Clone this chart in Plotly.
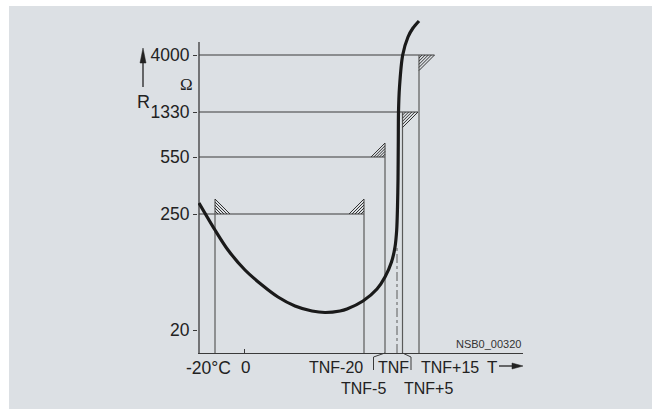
import plotly.graph_objects as go

# ---------------- data (schematic units) ----------------
temp_labels = ["-20°C", "0", "TNF-20", "TNF-5", "TNF", "TNF+5", "TNF+15"]
temp_pos = [16, 45, 165, 186, 198, 203.5, 220]          # schematic temperature axis
r_labels = ["20", "250", "550", "1330", "4000"]
r_pos = [23, 139, 196, 241, 298]                        # schematic resistance axis (Ω)

# PTC characteristic curve R(T)
curve_t = [0, 16, 29, 46, 63, 79, 96, 113, 126, 141, 148, 164, 178, 186,
           192.5, 196, 197.7, 198.5, 199, 199.3, 199.5, 200.5, 203.7, 209, 214, 220]
curve_r = [150, 123, 103, 83, 68, 56, 47, 42, 40.5, 42, 44, 52, 64, 76,
           91, 106, 123, 146, 173, 213, 241, 266, 298, 316, 325, 332]

# tolerance marks: (temperature label, resistance label)
mark_t = ["-20°C", "TNF-20", "TNF-5", "TNF+5", "TNF+15"]
mark_r = ["250", "250", "550", "1330", "4000"]

# ---------------- layout constants ----------------
W, H = 652, 409
ML, MR, MT, MB = 198, 129, 15, 56
XR = [-1, 324]
YR = [0, 338]
AX_TOP = 311
BG = "rgb(220,224,228)"
LINE = "#3a3a3a"
VLINE = "#5a5a5a"
FONT = "Liberation Sans, Arial, sans-serif"
SERIF = "Liberation Serif, Times New Roman, serif"

# hatch geometry per mark (direction along T, direction along R, size)
mark_style = [(+1, +1, 15), (-1, +1, 15), (-1, +1, 14), (+1, -1, 15.5), (+1, -1, 15.5)]

T = dict(zip(temp_labels, temp_pos))
R = dict(zip(r_labels, r_pos))


def xp(v):
    return (v - XR[0]) / (XR[1] - XR[0])


def yp(v):
    return (v - YR[0]) / (YR[1] - YR[0])


def xpx(px):
    return (px - ML) / (W - ML - MR)


def ypx(py):
    return (H - MB - py) / (H - MT - MB)


fig = go.Figure()

# y axis line
fig.add_trace(go.Scatter(x=[0, 0], y=[0, AX_TOP], mode="lines",
                         line=dict(color=LINE, width=1.3), hoverinfo="skip"))

# horizontal level lines
hx, hy = [], []
for lvl in r_labels:
    ends = []
    for (mt, mr), (sx, sy, s) in zip(zip(mark_t, mark_r), mark_style):
        if mr == lvl:
            ends.append(T[mt] + max(0, sx * s))
    if ends:
        hx += [0, max(ends), None]
        hy += [R[lvl], R[lvl], None]
fig.add_trace(go.Scatter(x=hx, y=hy, mode="lines",
                         line=dict(color=LINE, width=1.2), hoverinfo="skip"))

# vertical temperature lines
vx, vy = [], []
for (mt, mr), (sx, sy, s) in zip(zip(mark_t, mark_r), mark_style):
    top = R[mr] + (s if sy > 0 else 0)
    vx += [T[mt], T[mt], None]
    vy += [0, top, None]
fig.add_trace(go.Scatter(x=vx, y=vy, mode="lines",
                         line=dict(color=VLINE, width=1.2), hoverinfo="skip"))

# hatching (lines parallel to the hypotenuse of each small triangle)
hhx, hhy = [], []
for (mt, mr), (sx, sy, s) in zip(zip(mark_t, mark_r), mark_style):
    cx, cy = T[mt], R[mr]
    for k in range(1, 6):
        t = k / 5
        hhx += [cx + sx * s * t, cx, None]
        hhy += [cy, cy + sy * s * t, None]
fig.add_trace(go.Scatter(x=hhx, y=hhy, mode="lines",
                         line=dict(color="#333333", width=1), hoverinfo="skip"))

# TNF dash-dot line
fig.add_trace(go.Scatter(x=[T["TNF"], T["TNF"]], y=[0, 105], mode="lines",
                         line=dict(color=VLINE, width=1, dash="dashdot"), hoverinfo="skip"))

# characteristic curve
fig.add_trace(go.Scatter(x=curve_t, y=curve_r, mode="lines",
                         line=dict(color="#1a1a1a", width=3.2, shape="spline", smoothing=0.8),
                         hoverinfo="skip"))

shapes = []
# white border strips (left and top)
shapes.append(dict(type="rect", xref="paper", yref="paper", x0=xpx(-5), x1=xpx(9),
                   y0=ypx(H + 5), y1=ypx(-5), fillcolor="white", line=dict(width=0), layer="below"))
shapes.append(dict(type="rect", xref="paper", yref="paper", x0=xpx(-5), x1=xpx(W + 5),
                   y0=ypx(6), y1=ypx(-5), fillcolor="white", line=dict(width=0), layer="below"))

# brackets below the axis for TNF
lb = T["TNF-5"] - 11.5
rb = T["TNF+5"] + 8.5
for x_from, x_to in [(T["TNF-5"], lb), (T["TNF+5"], rb)]:
    shapes.append(dict(type="path", xref="paper", yref="paper",
                       path=f"M{xp(x_from)},{yp(0)} L{xp(x_to)},{yp(-4)} L{xp(x_to)},{yp(-17)}",
                       line=dict(color=LINE, width=1)))

# T arrow
ty = -13
shapes.append(dict(type="path", xref="paper", yref="paper",
                   path=f"M{xp(300)},{yp(ty)} L{xp(314)},{yp(ty)}",
                   line=dict(color="#222", width=1.3)))
shapes.append(dict(type="path", xref="paper", yref="paper",
                   path=f"M{xp(313)},{yp(ty + 3)} L{xp(324)},{yp(ty)} L{xp(313)},{yp(ty - 3)} Z",
                   fillcolor="#222", line=dict(color="#222", width=0.5)))
# R arrow
rx = -56
shapes.append(dict(type="path", xref="paper", yref="paper",
                   path=f"M{xp(rx)},{yp(266)} L{xp(rx)},{yp(291)}",
                   line=dict(color="#222", width=1.3)))
shapes.append(dict(type="path", xref="paper", yref="paper",
                   path=f"M{xp(rx - 3)},{yp(290)} L{xp(rx)},{yp(305)} L{xp(rx + 3)},{yp(290)} Z",
                   fillcolor="#222", line=dict(color="#222", width=0.5)))

annotations = []


def label(text, x, y, xanchor="center", size=16, color="#222", family=FONT):
    annotations.append(dict(text=text, x=xp(x), y=yp(y), xref="paper", yref="paper",
                            showarrow=False, xanchor=xanchor, yanchor="middle",
                            font=dict(family=family, size=size, color=color)))


row1, row2 = -15, -35
label("-20°C", T["-20°C"] - 7, row1, size=17.5)
label("0", T["0"] + 1, row1, size=17)
label("TNF-20", T["TNF-20"] + 1, row1, "right")
label("TNF", (T["TNF-5"] + T["TNF+5"]) / 2, row1)
label("TNF+15", T["TNF+15"], row1, "left")
label("TNF-5", T["TNF-5"] + 3, row2, "right")
label("TNF+5", T["TNF+5"] - 1, row2, "left")
label("T", 292.5, row1, size=17)
label("NSB0_00320", 324, 9, "right", size=11, color="#333")
label("Ω", -13, 269, size=17, family=SERIF)
label("R", -56, 251, size=18)

fig.update_layout(
    width=W, height=H,
    margin=dict(l=ML, r=MR, t=MT, b=MB, autoexpand=False),
    paper_bgcolor=BG, plot_bgcolor=BG,
    showlegend=False,
    shapes=shapes, annotations=annotations,
    xaxis=dict(range=XR, showgrid=False, zeroline=False, showline=True,
               linecolor=LINE, linewidth=1.3, ticks="inside", tickvals=[T["0"]],
               ticklen=4, tickcolor=LINE, tickwidth=1.2, showticklabels=False,
               fixedrange=True),
    yaxis=dict(range=YR, showgrid=False, zeroline=False, showline=False,
               tickvals=r_pos, ticktext=r_labels, ticks="outside", ticklen=4,
               tickcolor=LINE, tickwidth=1.2, automargin=False,
               tickfont=dict(family=FONT, size=17.5, color="#222"), fixedrange=True),
)

fig.write_html("out.html", config={"displayModeBar": False},
               post_script="document.body.style.margin='0px';document.body.style.overflow='hidden';")
